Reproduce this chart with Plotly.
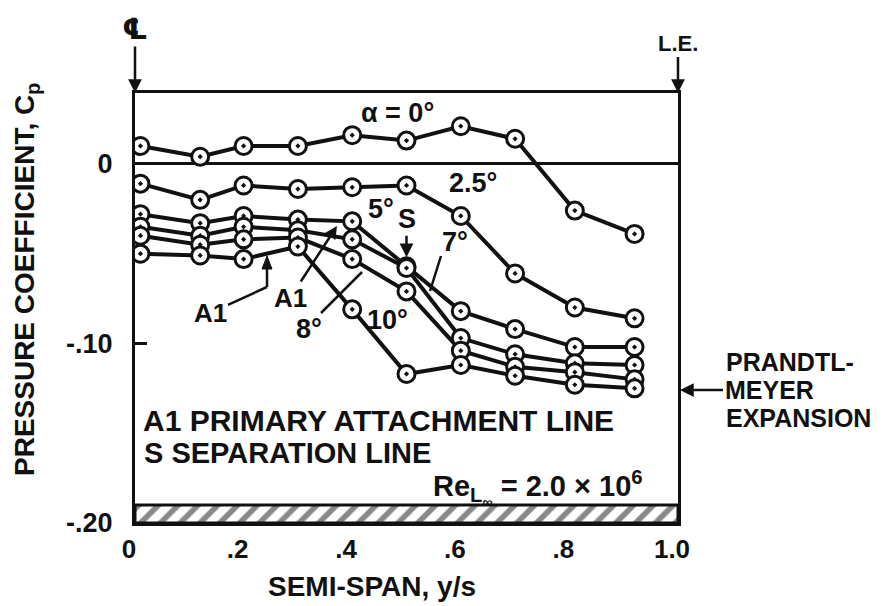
import plotly.graph_objects as go

# Spanwise stations (fraction of semi-span) and measured pressure coefficients
span = [0.01, 0.12, 0.20, 0.30, 0.40, 0.50, 0.60, 0.70, 0.81, 0.92]
cp_alpha_0 = [0.010, 0.004, 0.010, 0.010, 0.016, 0.013, 0.021, 0.014, -0.026, -0.039]
cp_alpha_2_5 = [-0.011, -0.020, -0.012, -0.014, -0.013, -0.012, -0.029, -0.061, -0.080, -0.086]
cp_alpha_5 = [-0.028, -0.033, -0.029, -0.031, -0.032, -0.057, -0.082, -0.092, -0.102, -0.102]
cp_alpha_7 = [-0.035, -0.040, -0.035, -0.037, -0.042, -0.058, -0.097, -0.106, -0.111, -0.112]
cp_alpha_8 = [-0.040, -0.045, -0.042, -0.041, -0.053, -0.071, -0.104, -0.113, -0.116, -0.120]
cp_alpha_10 = [-0.050, -0.051, -0.053, -0.046, -0.081, -0.117, -0.112, -0.118, -0.123, -0.125]

series = [cp_alpha_0, cp_alpha_2_5, cp_alpha_5, cp_alpha_7, cp_alpha_8, cp_alpha_10]

x_ticks = [0, 0.2, 0.4, 0.6, 0.8, 1.0]
x_ticktext = ["0", ".2", ".4", ".6", ".8", "1.0"]
y_ticks = [0, -0.10, -0.20]
y_ticktext = ["0", "-.10", "-.20"]

# Vacuum-limit band along the bottom of the plot
band_low, band_high = -0.20, -0.19

W, H = 892, 606
L, R, T, B = 135, 678, 93, 523
Y_MIN, Y_MAX = -0.20, 0.0395

FONT = "Liberation Sans, Arial, DejaVu Sans, sans-serif"
BLACK = "#111111"


def fx(xp):
    """pixel x -> paper x"""
    return (xp - L) / (R - L)


def fy(yp):
    """pixel y -> paper y"""
    return (B - yp) / (B - T)


fig = go.Figure()

# hatched band
fig.add_trace(go.Scatter(
    x=[0, 1, 1, 0, 0],
    y=[band_low, band_low, band_high, band_high, band_low],
    mode="lines", fill="toself",
    fillcolor="white",
    fillpattern=dict(shape="/", fgcolor=BLACK, bgcolor="white", size=14, solidity=0.4),
    line=dict(color=BLACK, width=3),
    hoverinfo="skip", showlegend=False,
))

# curve lines first, then markers on top of all lines
for cp in series:
    fig.add_trace(go.Scatter(
        x=span, y=cp, mode="lines",
        line=dict(color=BLACK, width=4),
        showlegend=False, hoverinfo="skip",
    ))
for cp in series:
    fig.add_trace(go.Scatter(
        x=span, y=cp, mode="markers",
        marker=dict(symbol="circle-dot", size=17, color="white",
                    line=dict(color=BLACK, width=3)),
        showlegend=False,
    ))

base_font = dict(family=FONT, size=27, color=BLACK, weight="bold")

annotations = []


def text(s, xp, yp, anchor="center", size=27, angle=0):
    annotations.append(dict(
        text=s, x=fx(xp), y=fy(yp), xref="paper", yref="paper",
        xanchor=anchor, yanchor="middle", showarrow=False,
        textangle=angle, font=dict(base_font, size=size),
    ))


text("α = 0°", 397, 113)
text("2.5°", 473, 183)
text("5°", 381, 209)
text("7°", 455, 242)
text("8°", 309, 329)
text("10°", 387, 320)
text("A1 PRIMARY ATTACHMENT LINE", 141, 420, anchor="left", size=30)
text("S SEPARATION LINE", 142, 453, anchor="left", size=29)
text("Re<sub>L<sub>∞</sub></sub> = 2.0 × 10<sup>6</sup>", 431, 488, anchor="left", size=29)
text("PRANDTL-", 724, 362, anchor="left", size=25)
text("EXPANSION", 724, 418, anchor="left", size=25)
text("SEMI-SPAN, y/s", 372, 586, size=28)
text("PRESSURE COEFFICIENT, C<sub>p</sub>", 26, 280, angle=-90, size=28)

# labels carrying their own arrows
annotations.append(dict(
    text="MEYER", x=fx(R + 2), y=fy(390), xref="paper", yref="paper",
    ax=89, ay=0, showarrow=True, arrowhead=2, arrowsize=1.1, arrowwidth=2.5,
    arrowcolor=BLACK, font=dict(base_font, size=25),
))
annotations.append(dict(
    text="℄", x=fx(L), y=fy(T), xref="paper", yref="paper",
    ax=0, ay=-64, showarrow=True, arrowhead=2, arrowsize=1.1, arrowwidth=2.5,
    arrowcolor=BLACK, font=dict(base_font, size=29),
))
annotations.append(dict(
    text="L.E.", x=fx(R), y=fy(T), xref="paper", yref="paper",
    ax=0, ay=-50, showarrow=True, arrowhead=2, arrowsize=1.1, arrowwidth=2.5,
    arrowcolor=BLACK, font=dict(base_font, size=22),
))
annotations.append(dict(
    text="S", x=span[5], y=cp_alpha_5[5], xref="x", yref="y",
    ax=0, ay=-47, standoff=9, showarrow=True, arrowhead=2, arrowsize=1.1,
    arrowwidth=2.5, arrowcolor=BLACK, font=base_font,
))
annotations.append(dict(
    text="A1", x=fx(337), y=fy(226), xref="paper", yref="paper",
    ax=-47, ay=72, showarrow=True, arrowhead=2, arrowsize=1.0, arrowwidth=2.5,
    arrowcolor=BLACK, font=dict(base_font, size=26),
))
annotations.append(dict(
    text="A1", x=fx(267), y=fy(287), xref="paper", yref="paper",
    ax=-57, ay=26, showarrow=True, arrowhead=0, arrowwidth=2.5,
    arrowcolor=BLACK, font=dict(base_font, size=26),
))

shapes = []


def seg(x0, y0, x1, y1, w=2.5):
    shapes.append(dict(type="line", xref="paper", yref="paper",
                       x0=fx(x0), y0=fy(y0), x1=fx(x1), y1=fy(y1),
                       line=dict(color=BLACK, width=w)))


def head_up(xp, yp, w=5, h=13):
    """small filled arrowhead pointing up with its tip at (xp, yp)"""
    shapes.append(dict(
        type="path", xref="paper", yref="paper",
        path=f"M {fx(xp)} {fy(yp)} L {fx(xp - w)} {fy(yp + h)} L {fx(xp + w)} {fy(yp + h)} Z",
        fillcolor=BLACK, line=dict(color=BLACK, width=1),
    ))


seg(267, 287, 267, 266)   # A1 vertical arrow shaft
head_up(267, 256)
seg(441, 256, 430, 291)   # 7° leader
seg(321, 313, 362, 272)   # 8° leader

fig.update_layout(
    width=W, height=H,
    margin=dict(l=L, r=W - R, t=T, b=H - B),
    paper_bgcolor="white", plot_bgcolor="white",
    font=base_font,
    annotations=annotations,
    shapes=shapes,
    xaxis=dict(
        range=[0, 1], tickvals=x_ticks, ticktext=x_ticktext,
        showgrid=False, zeroline=False, ticks="",
        showline=True, linecolor=BLACK, linewidth=3, mirror=True,
        tickfont=dict(base_font, size=26), ticklabelstandoff=1, ticklabelshift=-6,
    ),
    yaxis=dict(
        range=[Y_MIN, Y_MAX], tickvals=y_ticks, ticktext=y_ticktext,
        showgrid=False, zeroline=True, zerolinecolor=BLACK, zerolinewidth=3,
        ticks="inside", ticklen=12, tickwidth=3, tickcolor=BLACK,
        showline=True, linecolor=BLACK, linewidth=3, mirror=True,
        tickfont=base_font, ticklabelstandoff=14,
    ),
)

fig.write_html("out.html")
